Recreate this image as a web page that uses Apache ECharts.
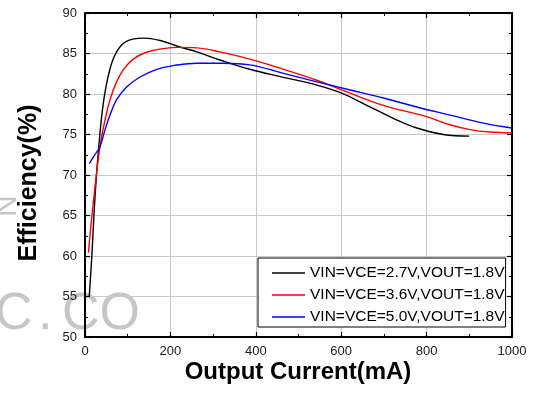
<!DOCTYPE html>
<html>
<head>
<meta charset="utf-8">
<script src="https://cdn.jsdelivr.net/npm/echarts@6/dist/echarts.min.js"></script>
<style>
  html, body { margin: 0; padding: 0; background: #fff; }
  #chart { width: 533px; height: 397px; }
</style>
</head>
<body>
<div id="chart"></div>
<script>
// Efficiency vs. output current for three supply voltages
const xTicks = [0, 200, 400, 600, 800, 1000];
const yTicks = [50, 55, 60, 65, 70, 75, 80, 85, 90];

const seriesNames = [
  'VIN=VCE=2.7V,VOUT=1.8V',
  'VIN=VCE=3.6V,VOUT=1.8V',
  'VIN=VCE=5.0V,VOUT=1.8V'
];

// [output current mA, efficiency %]
const eff27 = [
  [10, 55], [16, 60], [23, 66.9], [31, 72.7], [43, 78.9], [58, 83], [74, 85.2],
  [97, 86.5], [137, 86.9], [176, 86.6], [222, 85.8], [262, 85.2], [316, 84.2],
  [386, 83.05], [465, 82.06], [543, 81.1], [601, 80.1], [660, 78.6], [722, 77.0],
  [777, 75.8], [839, 75.0], [900, 74.8]
];
const eff36 = [
  [8, 60.4], [20, 66.9], [35, 73.5], [47, 76.8], [58.5, 79.3], [74, 81.5], [90, 83.0],
  [113, 84.3], [144, 85.15], [183, 85.6], [222, 85.76], [262, 85.7], [316, 85.2],
  [386, 84.3], [465, 83.05], [543, 81.7], [621, 80.1], [699, 78.6], [800, 77.2],
  [855, 76.2], [902, 75.6], [948, 75.3], [1000, 75.2]
];
const eff50 = [
  [10, 71.4], [23, 72.5], [35, 73.5], [47, 75.6], [58.5, 77.4], [74, 79.3], [98, 80.9],
  [129, 82.1], [168, 83.05], [207, 83.5], [262, 83.8], [324, 83.8], [386, 83.6],
  [465, 82.55], [543, 81.5], [621, 80.5], [699, 79.5], [777, 78.4], [855, 77.4],
  [933, 76.4], [1000, 75.8]
];

const lineColors = ['#000000', '#ff0000', '#0000ff'];
const FONT = "'Liberation Sans', Arial, Helvetica, sans-serif";

const chart = echarts.init(document.getElementById('chart'), null, { renderer: 'canvas' });

const xMin = xTicks[0], xMax = xTicks[xTicks.length - 1], xStep = xTicks[1] - xTicks[0];
const yMin = yTicks[0], yMax = yTicks[yTicks.length - 1], yStep = yTicks[1] - yTicks[0];

function frameAxis(extra) {
  return Object.assign({
    type: 'value',
    axisLine: { show: true, onZero: false, lineStyle: { color: '#000', width: 2 } },
    axisTick: { show: true, inside: true, length: 5, lineStyle: { color: '#000', width: 1.2 } },
    minorTick: { show: true, splitNumber: 2, length: 3, lineStyle: { color: '#000', width: 1 } },
    splitLine: { show: false },
    axisLabel: { show: false }
  }, extra);
}

const tickLabel = {
  show: true, color: '#1a1a1a', fontFamily: FONT, fontSize: 13, margin: 8,
  formatter: v => String(v)
};

const option = {
  backgroundColor: '#ffffff',
  animation: false,
  grid: { left: 85, top: 13, width: 427, height: 324, containLabel: false },
  xAxis: [
    frameAxis({
      position: 'bottom', min: xMin, max: xMax, interval: xStep,
      axisLabel: tickLabel,
      splitLine: { show: true, lineStyle: { color: '#c8c8c8', width: 1 } }
    }),
    frameAxis({ position: 'top', min: xMin, max: xMax, interval: xStep })
  ],
  yAxis: [
    frameAxis({
      position: 'left', min: yMin, max: yMax, interval: yStep,
      axisLabel: tickLabel,
      splitLine: { show: true, lineStyle: { color: '#c8c8c8', width: 1 } }
    }),
    frameAxis({ position: 'right', min: yMin, max: yMax, interval: yStep })
  ],
  legend: {
    orient: 'vertical',
    left: 258,
    top: 258,
    padding: [7, 1, 2, 14],
    itemWidth: 33,
    itemHeight: 14,
    itemGap: 6,
    icon: 'path://M0,0H100V4.2H0Z',
    symbolKeepAspect: true,
    borderColor: '#000',
    borderWidth: 1,
    backgroundColor: '#fff',
    textStyle: { color: '#000', fontFamily: FONT, fontSize: 15.5 },
    data: seriesNames
  },
  graphic: [
    // faint grey lettering in the background
    { type: 'text', z: -10, x: -5, y: 315,
      style: { text: 'C', fill: '#c6c6c6', font: '52px ' + FONT, verticalAlign: 'middle' } },
    { type: 'text', z: -10, x: 38, y: 315,
      style: { text: '.', fill: '#c6c6c6', font: '52px ' + FONT, verticalAlign: 'middle' } },
    { type: 'text', z: -10, x: 62, y: 315,
      style: { text: 'CO', fill: '#c6c6c6', font: '52px ' + FONT, verticalAlign: 'middle' } },
    { type: 'text', z: -10, x: 4, y: 206, rotation: -Math.PI / 2,
      style: { text: 'N', fill: '#c6c6c6', font: '30px ' + FONT, align: 'center', verticalAlign: 'middle' } },
    // axis titles
    { type: 'text', x: 298, y: 372,
      style: { text: 'Output Current(mA)', fill: '#000', font: 'bold 24px ' + FONT, align: 'center', verticalAlign: 'middle' } },
    { type: 'text', x: 29, y: 183, rotation: Math.PI / 2,
      style: { text: 'Efficiency(%)', fill: '#000', font: 'bold 25px ' + FONT, align: 'center', verticalAlign: 'middle' } }
  ],
  series: [eff27, eff36, eff50].map((d, i) => ({
    name: seriesNames[i],
    type: 'line',
    data: d,
    xAxisIndex: 0,
    yAxisIndex: 0,
    smooth: 0.4,
    symbol: 'none',
    showSymbol: false,
    color: lineColors[i],
    lineStyle: { color: lineColors[i], width: 1.4 },
    z: 3
  }))
};

chart.setOption(option);
</script>
</body>
</html>
